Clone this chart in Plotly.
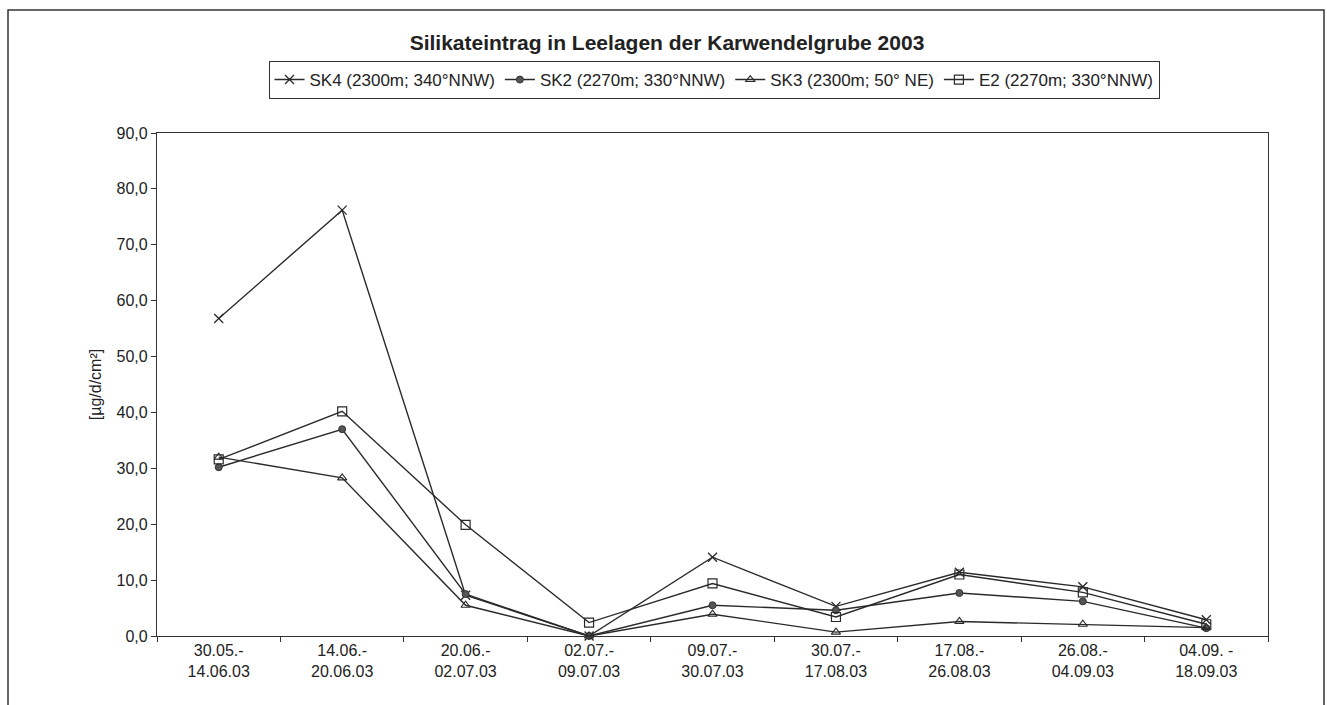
import plotly.graph_objects as go

categories = ["30.05.-<br>14.06.03", "14.06.-<br>20.06.03", "20.06.-<br>02.07.03",
              "02.07.-<br>09.07.03", "09.07.-<br>30.07.03", "30.07.-<br>17.08.03",
              "17.08.-<br>26.08.03", "26.08.-<br>04.09.03", "04.09. -<br>18.09.03"]

sk4 = [56.8, 76.2, 7.3, 0.0, 14.1, 5.3, 11.4, 8.8, 2.9]
sk2 = [30.2, 37.0, 7.5, 0.0, 5.5, 4.6, 7.7, 6.2, 1.4]
sk3 = [32.0, 28.3, 5.5, 0.0, 3.9, 0.7, 2.6, 2.1, 1.5]
e2 = [31.6, 40.2, 19.9, 2.4, 9.4, 3.4, 11.0, 7.8, 2.1]

series_names = ["SK4 (2300m; 340°NNW)", "SK2 (2270m; 330°NNW)",
                "SK3 (2300m; 50° NE)", "E2 (2270m; 330°NNW)"]

y_tickvals = [0, 10, 20, 30, 40, 50, 60, 70, 80, 90]
y_ticktext = ["0,0", "10,0", "20,0", "30,0", "40,0", "50,0", "60,0", "70,0", "80,0", "90,0"]

title_text = "Silikateintrag in Leelagen der Karwendelgrube 2003"
y_title = "[µg/d/cm²]"

FONT = "Liberation Sans, Arial, sans-serif"
LINE = "#2a2a2a"
TXT = "#222222"

W, H = 1327, 705
L, R, T, B = 157, 59, 133, 69
PW, PH = W - L - R, H - T - B

styles = [
    dict(symbol="x-thin-open", size=9, color=LINE, line=dict(color=LINE, width=1.3)),
    dict(symbol="circle", size=7, color="#555555", line=dict(color="#333333", width=1)),
    dict(symbol="triangle-up-open", size=8, color=LINE, line=dict(color=LINE, width=1.1)),
    dict(symbol="square-open", size=9, color=LINE, line=dict(color=LINE, width=1.2)),
]

fig = go.Figure()
for name, vals, st in zip(series_names, [sk4, sk2, sk3, e2], styles):
    fig.add_trace(go.Scatter(
        x=categories, y=vals, name=name, mode="lines+markers",
        line=dict(color=LINE, width=1.4),
        marker=st, cliponaxis=False,
    ))

fig.update_layout(
    width=W, height=H, autosize=False,
    margin=dict(l=L, r=R, t=T, b=B, autoexpand=False),
    paper_bgcolor="white", plot_bgcolor="white",
    font=dict(family=FONT, size=16, color=TXT),
    title=dict(text="<b>" + title_text + "</b>", x=(667 - 0) / W, xanchor="center",
               y=1 - 43 / H, yanchor="middle",
               font=dict(family=FONT, size=21, color=TXT)),
    showlegend=True,
    legend=dict(orientation="h", x=(714 - L) / PW, xanchor="center",
                y=1 + (133 - 80) / PH, yanchor="middle",
                bordercolor="#333333", borderwidth=1, bgcolor="white",
                font=dict(family=FONT, size=17, color=TXT),
                tracegroupgap=0, itemsizing="trace", itemwidth=30),
    xaxis=dict(type="category", showline=True, linecolor="#333333", linewidth=1.2,
               mirror=True, ticks="outside", ticklen=5, tickcolor="#333333",
               tickson="boundaries", showgrid=False, zeroline=False,
               tickfont=dict(family=FONT, size=16, color=TXT),
               range=[-0.5, 8.5], autorange=False, automargin=False),
    yaxis=dict(range=[0, 90], autorange=False, automargin=False,
               tickvals=y_tickvals, ticktext=y_ticktext,
               showline=True, linecolor="#333333", linewidth=1.2, mirror=True,
               ticks="outside", ticklen=5, tickcolor="#333333", showgrid=False,
               zeroline=False, tickfont=dict(family=FONT, size=16, color=TXT),
               title=dict(text=y_title, standoff=10,
                          font=dict(family=FONT, size=16, color=TXT))),
)

fig.add_shape(type="rect", xref="paper", yref="paper",
              x0=(8 - L) / PW, x1=(1324 - L) / PW, y0=-(H + 5 - T - PH) / PH, y1=1 + (T - 10) / PH,
              line=dict(color="#333333", width=1.5), fillcolor="rgba(0,0,0,0)", layer="below")

fig.write_html("out.html", config={"displayModeBar": False},
               post_script="document.body.style.margin='0';document.body.style.overflow='hidden';")
